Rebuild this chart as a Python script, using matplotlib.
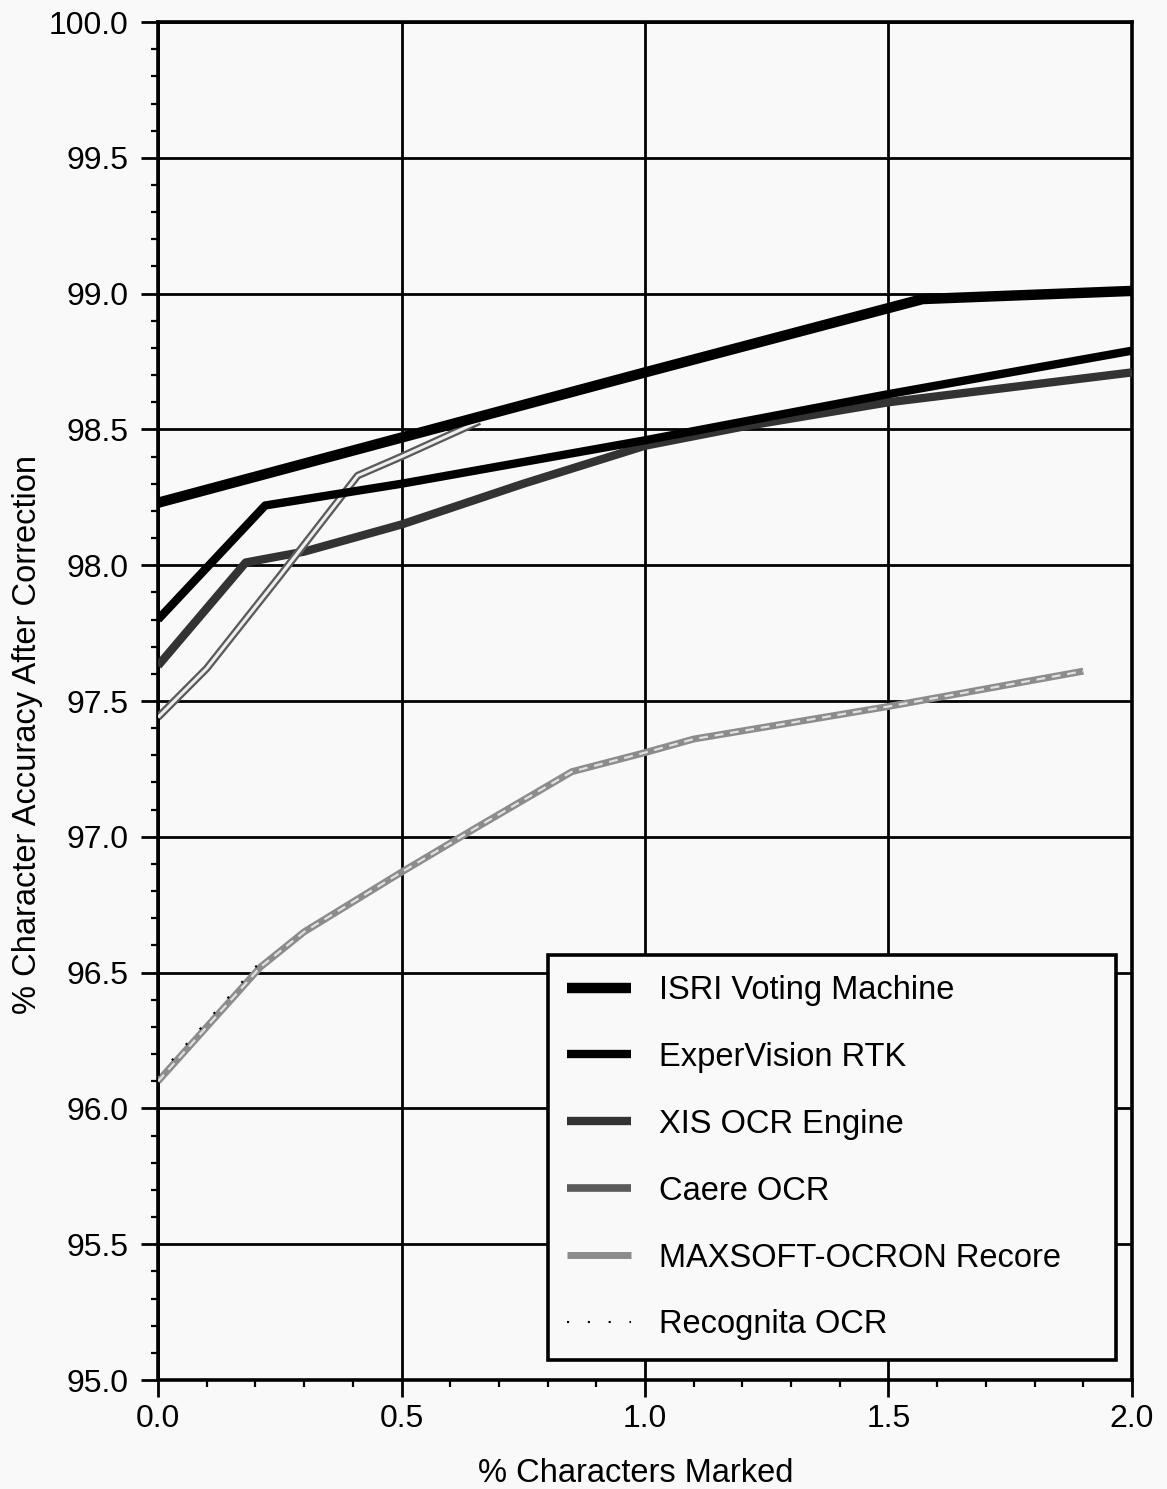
import numpy as np
import matplotlib.pyplot as plt
from matplotlib.ticker import MultipleLocator, FormatStrFormatter

plt.rcParams['font.family'] = ['Liberation Sans', 'DejaVu Sans']

# values
isri_x = [0.0, 0.5, 1.0, 1.57, 2.0]
isri_y = [98.23, 98.47, 98.71, 98.98, 99.01]

exper_x = [0.0, 0.22, 0.5, 1.0, 1.5, 2.0]
exper_y = [97.80, 98.22, 98.30, 98.46, 98.63, 98.79]

xis_x = [0.0, 0.18, 0.3, 0.5, 0.75, 1.0, 1.2, 1.5, 2.0]
xis_y = [97.63, 98.01, 98.05, 98.15, 98.30, 98.44, 98.51, 98.60, 98.71]

caere_x = [0.0, 0.1, 0.25, 0.41, 0.5, 0.66]
caere_y = [97.44, 97.62, 97.96, 98.33, 98.40, 98.53]

maxsoft_x = [0.0, 0.1, 0.21, 0.3, 0.5, 0.65, 0.85, 1.0, 1.1, 1.5, 1.9]
maxsoft_y = [96.10, 96.30, 96.52, 96.65, 96.87, 97.03, 97.24, 97.31, 97.36, 97.48, 97.61]

recog_x = [0.0, 0.1, 0.21]
recog_y = [96.12, 96.32, 96.54]

labels = ['ISRI Voting Machine', 'ExperVision RTK', 'XIS OCR Engine',
          'Caere OCR', 'MAXSOFT-OCRON Recore', 'Recognita OCR']

bg = '#f9f9f9'
fig = plt.figure(figsize=(11.67, 14.89), dpi=100, facecolor=bg)
ax = fig.add_axes([0.1354, 0.0732, 0.8346, 0.912])
ax.set_facecolor(bg)

ax.grid(True, which='major', color='black', lw=2.0)
ax.set_axisbelow(True)

ax.plot(isri_x, isri_y, color='black', lw=7.5, solid_capstyle='butt', label=labels[0], zorder=5)
ax.plot(exper_x, exper_y, color='black', lw=6, solid_capstyle='butt', label=labels[1], zorder=5)
ax.plot(xis_x, xis_y, color='#333333', lw=6, solid_capstyle='butt', label=labels[2], zorder=4)
ax.plot(caere_x, caere_y, color='#5a5a5a', lw=5.5, solid_capstyle='butt', label=labels[3], zorder=4)
ax.plot(caere_x, caere_y, color='#eeeeee', lw=2.2, solid_capstyle='butt', zorder=4)
ax.plot(maxsoft_x, maxsoft_y, color='#8c8c8c', lw=5, solid_capstyle='butt', label=labels[4], zorder=4)
ax.plot(maxsoft_x, maxsoft_y, color='#e0e0e0', lw=1.6, ls=(0, (4, 3)), zorder=4)
ax.plot(recog_x, recog_y, color='black', lw=1.5, ls=(0, (1, 9)), label=labels[5], zorder=6)

ax.set_xlim(0, 2.0)
ax.set_ylim(95.0, 100.0)
ax.xaxis.set_major_locator(MultipleLocator(0.5))
ax.xaxis.set_minor_locator(MultipleLocator(0.1))
ax.yaxis.set_major_locator(MultipleLocator(0.5))
ax.yaxis.set_minor_locator(MultipleLocator(0.1))
ax.xaxis.set_major_formatter(FormatStrFormatter('%.1f'))
ax.yaxis.set_major_formatter(FormatStrFormatter('%.1f'))

ax.tick_params(which='major', direction='out', length=12, width=2, labelsize=23, pad=5)
ax.tick_params(axis='y', which='major', pad=9)
ax.tick_params(which='minor', direction='out', length=5, width=1.6)
for s in ax.spines.values():
    s.set_linewidth(2.6)

ax.set_xlabel('% Characters Marked', fontsize=23.5)
ax.set_ylabel('% Character Accuracy After Correction', fontsize=23.5)
ax.xaxis.set_label_coords(0.49, -0.0575)
ax.yaxis.set_label_coords(-0.118, 0.475)

leg = ax.legend(loc='lower left', bbox_to_anchor=(0.400, 0.0147, 0.584, 0.298),
                mode='expand', fontsize=23.5, frameon=True, fancybox=False,
                framealpha=1, facecolor=bg, edgecolor='black',
                labelspacing=1.1, handlelength=1.95, handletextpad=0.85,
                borderpad=0.6, borderaxespad=0)
leg.get_frame().set_linewidth(2.6)
leg.set_zorder(10)

fig.savefig('out.png', dpi=100, facecolor=bg)
